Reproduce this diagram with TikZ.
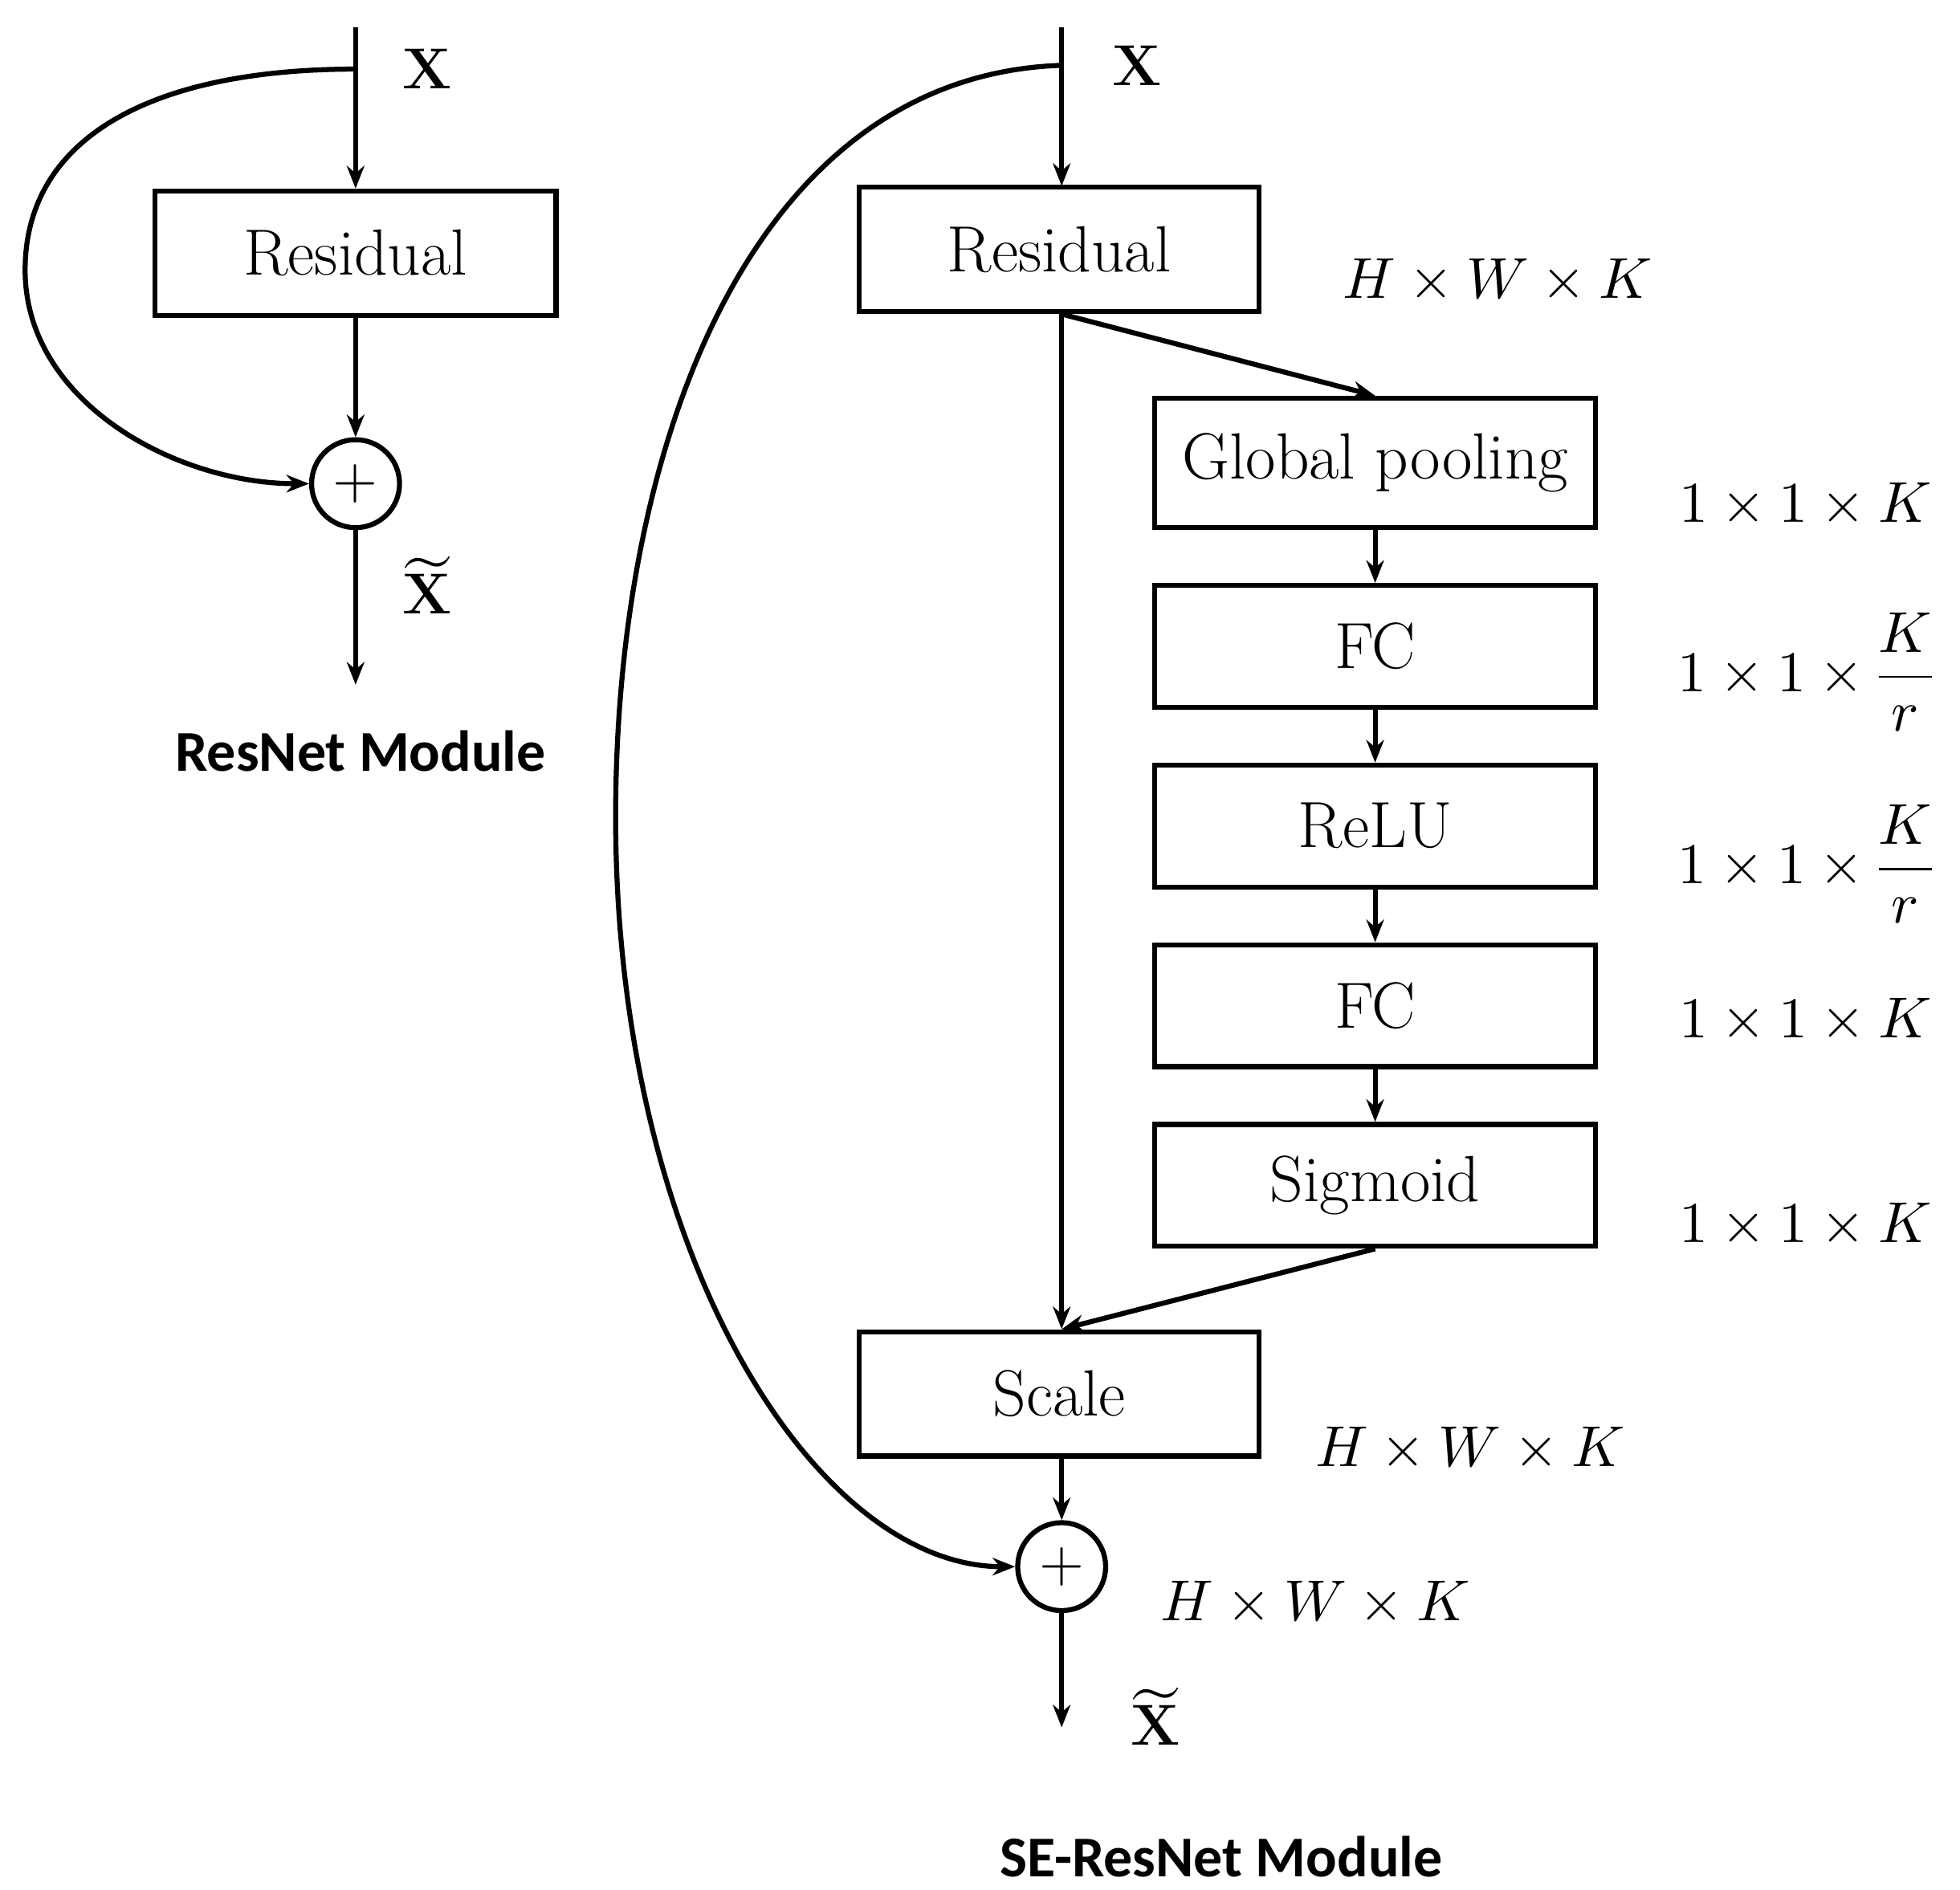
\documentclass[tikz,border=0pt]{standalone}
\usepackage{amsmath}
\usepackage{unicode-math}
\setmathfont{Latin Modern Math}
\newfontfamily\carlitofam{Carlito}
\usetikzlibrary{arrows.meta}
\begin{document}
\begin{tikzpicture}[x=1pt,y=-1pt,line width=4pt,
 box/.style={draw,rectangle,minimum width=#1,inner sep=0pt},
 arr/.style={-{Stealth[length=18pt,width=14pt]}},
 t/.style={font=\fontsize{52}{56}\selectfont},
 m/.style={font=\fontsize{46}{50}\selectfont},
 ttl/.style={font=\fontsize{46}{50}\selectfont\carlitofam\bfseries},
 circ/.style={draw,circle,minimum size=70pt,inner sep=0pt}]
\useasboundingbox (0,0) rectangle (1560,1504);
% left module
\coordinate (ltop) at (283,22);
\coordinate (lbend) at (283,55);
\node[box=319pt,minimum height=99pt,t] (lres) at (283,201.5) {Residual};
\node[circ] (lsum) at (283,385) {};
\node[m] at (283,385) {$+$};
\coordinate (lend) at (283,545);
\draw[arr] (ltop) -- (lres.north);
\draw[arr] (lres.south) -- (lsum.north);
\draw[arr] (lsum.south) -- (lend);
\draw[arr] (lbend) .. controls (120,55) and (20,110) .. (20,215) .. controls (20,320) and (140,385) .. (lsum.west);
\node[m] at (340,55) {$\mathbf{X}$};
\node[m] at (340,466) {$\widetilde{\mathbf{X}}$};
\node[ttl] at (287,598) {ResNet Module};
% right module
\coordinate (rtop) at (845,22);
\coordinate (rbend) at (845,52);
\node[box=318pt,minimum height=99pt,t] (rres) at (843,198.5) {Residual};
\node[box=351pt,minimum height=103pt,t] (gp) at (1094.5,368.5) {Global pooling};
\node[box=351pt,minimum height=97pt,t] (fc1) at (1094.5,514.5) {FC};
\node[box=351pt,minimum height=97pt,t] (relu) at (1094.5,657.5) {ReLU};
\node[box=351pt,minimum height=97pt,t] (fc2) at (1094.5,800.5) {FC};
\node[box=351pt,minimum height=97pt,t] (sig) at (1094.5,943.5) {Sigmoid};
\node[box=318pt,minimum height=99pt,t] (scale) at (843,1109.5) {Scale};
\node[circ] (rsum) at (845,1247) {};
\node[m] at (845,1247) {$+$};
\coordinate (rend) at (845,1375);
\coordinate (rs) at (845,250);
\coordinate (sn) at (845,1058);
\draw[arr] (rtop) -- (845,148);
\draw[arr] (rs) -- (sn);
\draw[arr] (rs) -- (gp.north);
\draw[arr] (gp.south) -- (fc1.north);
\draw[arr] (fc1.south) -- (relu.north);
\draw[arr] (relu.south) -- (fc2.north);
\draw[arr] (fc2.south) -- (sig.north);
\draw[arr] (sig.south) -- (sn);
\draw[arr] (845,1160) -- (rsum.north);
\draw[arr] (rsum.south) -- (rend);
\draw[arr] (rbend) .. controls (600,60) and (490,350) .. (490,650) .. controls (490,1000) and (650,1247) .. (rsum.west);
\node[m] at (905,52) {$\mathbf{X}$};
\node[m] at (920,1366) {$\widetilde{\mathbf{X}}$};
\node[ttl] at (972,1478) {SE-ResNet Module};
\node[m] at (1192,222) {$H\times W\times K$};
\node[m] at (1170,1152) {$H\times W\times K$};
\node[m] at (1047,1275) {$H\times W\times K$};
\node[m] at (1437,400) {$1\times 1\times K$};
\node[m] at (1437,535) {$1\times 1\times \dfrac{K}{r}$};
\node[m] at (1437,688) {$1\times 1\times \dfrac{K}{r}$};
\node[m] at (1437,810) {$1\times 1\times K$};
\node[m] at (1437,973) {$1\times 1\times K$};
\end{tikzpicture}
\end{document}
